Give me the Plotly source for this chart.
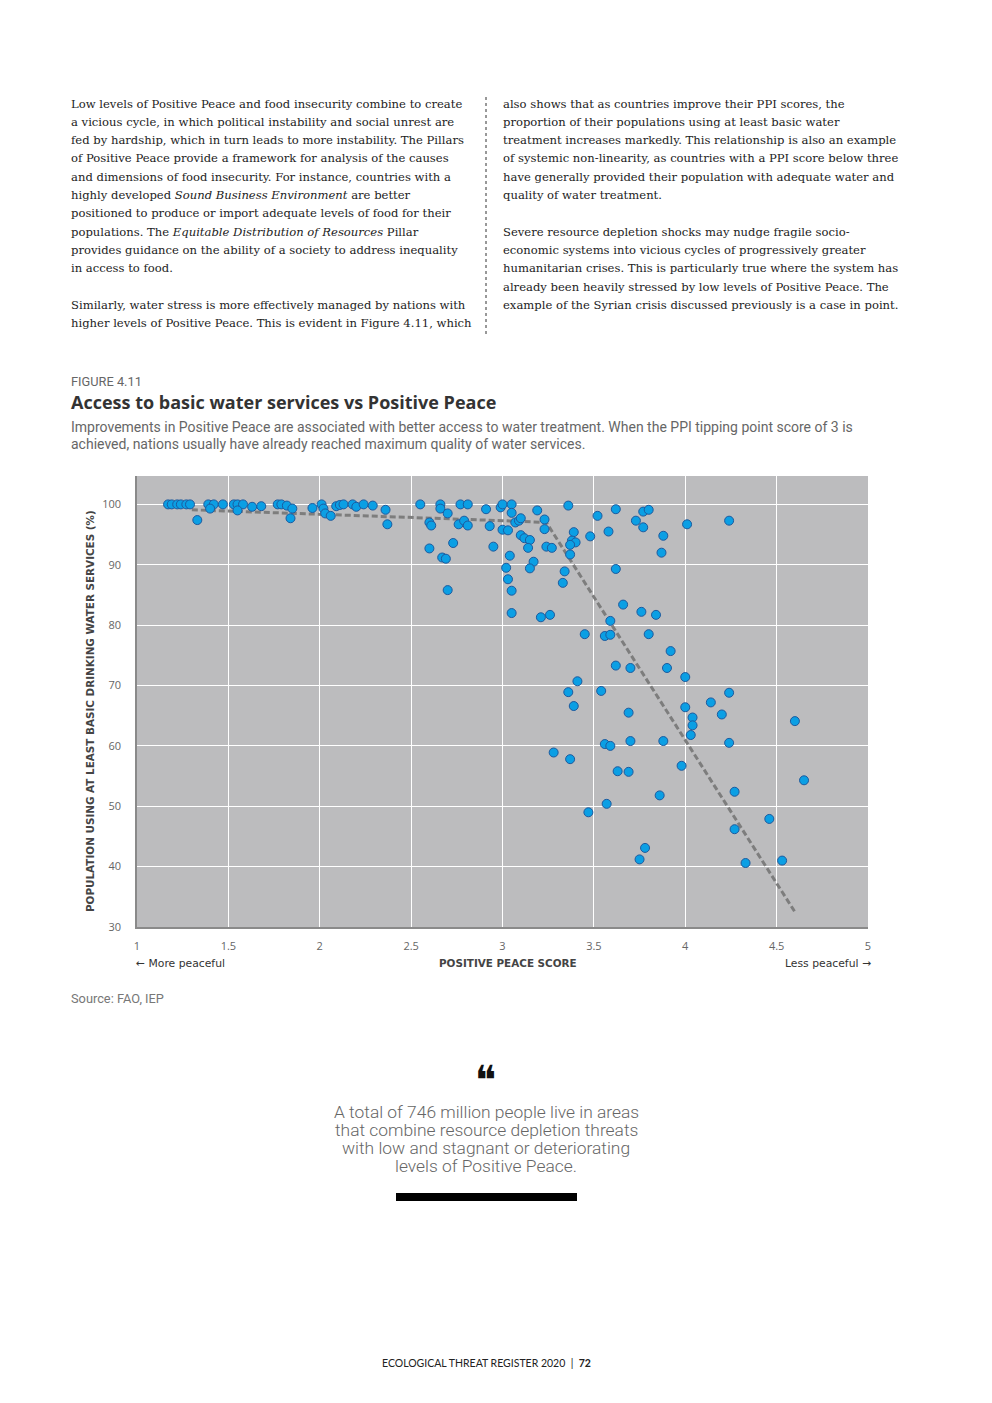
import plotly.graph_objects as go

# ---------------- data ----------------
pp_score = [
    1.17, 1.19, 1.22, 1.24, 1.27, 1.29, 1.33, 1.39, 1.42, 1.40, 1.47,
    1.53, 1.55, 1.58, 1.55, 1.63, 1.68, 1.77, 1.79, 1.82, 1.85, 1.84,
    1.96, 2.01, 2.02, 2.03, 2.06, 2.09, 2.11, 2.13, 2.18, 2.20, 2.24, 2.29,
    2.36, 2.37, 2.55, 2.66, 2.66, 2.70, 2.60, 2.61, 2.60, 2.73, 2.67, 2.69,
    2.70, 2.77, 2.81, 2.76, 2.79, 2.81,
    2.91, 2.99, 3.00, 3.05, 3.05, 2.93, 3.00, 3.03, 2.95, 3.07, 3.09, 3.10,
    3.19, 3.23, 3.23, 3.10, 3.12, 3.15, 3.14, 3.24, 3.27, 3.04, 3.02, 3.03,
    3.05, 3.05, 3.17, 3.15, 3.21, 3.26,
    3.36, 3.39, 3.38, 3.40, 3.37, 3.37, 3.34, 3.33, 3.48, 3.52, 3.58, 3.62,
    3.62, 3.73, 3.77, 3.80, 3.77, 3.88, 3.87, 3.66, 3.76, 3.84, 3.59,
    4.01, 4.24,
    3.45, 3.56, 3.59, 3.80, 3.92, 3.62, 3.70, 3.90, 4.00, 3.41, 3.36, 3.39,
    3.54, 3.69, 4.00, 4.04, 4.04, 4.03, 3.56, 3.59, 3.70, 3.88, 3.28, 3.37,
    3.98, 3.63, 3.69, 3.86, 3.57, 3.47,
    4.14, 4.24, 4.20, 4.60, 4.24, 4.65, 4.27, 4.46, 4.27, 4.53, 4.33, 3.78, 3.75,
]
water_access = [
    100, 100, 100, 100, 100, 100, 97.4, 100, 100, 99.3, 100,
    100, 100, 100, 99.0, 99.6, 99.7, 100, 100, 99.8, 99.3, 97.7,
    99.4, 100, 99.3, 98.5, 98.1, 99.7, 99.9, 100, 100, 99.6, 100, 99.8,
    99.1, 96.7, 100, 100, 99.3, 98.5, 97.0, 96.5, 92.7, 93.6, 91.2, 91.0,
    85.8, 100, 100, 96.7, 97.3, 96.5,
    99.2, 99.5, 100, 100, 98.6, 96.4, 95.8, 95.7, 93.0, 97.0, 97.3, 97.7,
    99.0, 97.5, 95.9, 94.9, 94.4, 94.1, 92.8, 93.0, 92.8, 91.5, 89.5, 87.6,
    85.7, 82.0, 90.5, 89.4, 81.3, 81.7,
    99.8, 95.4, 94.0, 93.7, 93.3, 91.7, 88.9, 87.0, 94.7, 98.1, 95.5, 99.2,
    89.3, 97.3, 98.8, 99.1, 96.2, 94.8, 92.0, 83.4, 82.2, 81.7, 80.7,
    96.7, 97.3,
    78.5, 78.2, 78.4, 78.5, 75.7, 73.3, 72.9, 72.9, 71.4, 70.7, 68.9, 66.6,
    69.1, 65.5, 66.4, 64.7, 63.4, 61.8, 60.3, 60.0, 60.8, 60.8, 58.9, 57.8,
    56.7, 55.8, 55.7, 51.8, 50.4, 49.0,
    67.2, 68.8, 65.2, 64.1, 60.5, 54.3, 52.4, 47.9, 46.2, 41.0, 40.6, 43.1, 41.2,
]
trend_x = [1.30, 2.0, 2.5, 3.0, 3.24, 4.60]
trend_y = [99.1, 98.4, 97.8, 97.3, 97.0, 32.5]

x_ticks = [1, 1.5, 2, 2.5, 3, 3.5, 4, 4.5, 5]
y_ticks = [30, 40, 50, 60, 70, 80, 90, 100]

col1_lines = [
    "Low levels of Positive Peace and food insecurity combine to create",
    "a vicious cycle, in which political instability and social unrest are",
    "fed by hardship, which in turn leads to more instability. The Pillars",
    "of Positive Peace provide a framework for analysis of the causes",
    "and dimensions of food insecurity. For instance, countries with a",
    "highly developed <i>Sound Business Environment</i> are better",
    "positioned to produce or import adequate levels of food for their",
    "populations. The <i>Equitable Distribution of Resources</i> Pillar",
    "provides guidance on the ability of a society to address inequality",
    "in access to food.",
    "",
    "Similarly, water stress is more effectively managed by nations with",
    "higher levels of Positive Peace. This is evident in Figure 4.11, which",
]
col2_lines = [
    "also shows that as countries improve their PPI scores, the",
    "proportion of their populations using at least basic water",
    "treatment increases markedly. This relationship is also an example",
    "of systemic non-linearity, as countries with a PPI score below three",
    "have generally provided their population with adequate water and",
    "quality of water treatment.",
    "",
    "Severe resource depletion shocks may nudge fragile socio-",
    "economic systems into vicious cycles of progressively greater",
    "humanitarian crises. This is particularly true where the system has",
    "already been heavily stressed by low levels of Positive Peace. The",
    "example of the Syrian crisis discussed previously is a case in point.",
]
quote_lines = [
    "A total of 746 million people live in areas",
    "that combine resource depletion threats",
    "with low and stagnant or deteriorating",
    "levels of Positive Peace.",
]

# ---------------- layout geometry (page pixels) ----------------
OFF = 8                       # page body margin
W, H = 992 - 2 * OFF, 1403 - 2 * OFF
PL, PR, PT, PB = 137, 868, 476, 927


def fx(px):
    return (px - PL) / (PR - PL)


def fy(py):
    return (PB - py) / (PB - PT)


def ann(x, y, text, size, color, family, xanchor="left", **kw):
    d = dict(xref="paper", yref="paper", x=fx(x), y=fy(y), text=text,
             xanchor=xanchor, yanchor="middle", showarrow=False,
             font=dict(family=family, size=size, color=color))
    d.update(kw)
    return d


fig = go.Figure()

fig.add_trace(go.Scatter(
    x=trend_x, y=trend_y, mode="lines",
    line=dict(color="#7d7d7d", width=3, dash="6px,3px"),
    hoverinfo="skip", showlegend=False,
))
fig.add_trace(go.Scatter(
    x=pp_score, y=water_access, mode="markers",
    marker=dict(size=9, color="#0b9fe4", line=dict(color="#1d5a9e", width=1)),
    showlegend=False,
))

annotations = []
serif = "DejaVu Serif"
body_size = 11.6
for i, t in enumerate(col1_lines):
    if t:
        annotations.append(ann(69, 103.5 + i * 18.3, t, body_size, "#222", serif))
for i, t in enumerate(col2_lines):
    if t:
        annotations.append(ann(501, 103.5 + i * 18.3, t, body_size, "#222", serif))

sans = "Roboto"
annotations += [
    ann(69, 381, "FIGURE 4.11", 12.8, "#666", sans),
    ann(69, 402, "<b>Access to basic water services vs Positive Peace</b>", 18, "#333", "Open Sans"),
    ann(69, 427, "Improvements in Positive Peace are associated with better access to water treatment. "
                 "When the PPI tipping point score of 3 is", 14, "#666", sans),
    ann(69, 443.5, "achieved, nations usually have already reached maximum quality of water services.",
        14, "#666", sans),
    ann(90, 711, "<b>POPULATION USING AT LEAST BASIC DRINKING WATER SERVICES (%)</b>", 10.4, "#444",
        "DejaVu Sans", xanchor="center", textangle=-90),
    ann(508, 963, "<b>POSITIVE PEACE SCORE</b>", 10.4, "#444", "DejaVu Sans", xanchor="center"),
    ann(134, 963.5, "\u2190 More peaceful", 10.8, "#333", "DejaVu Sans"),
    ann(873, 963.5, "Less peaceful \u2192", 10.8, "#333", "DejaVu Sans", xanchor="right"),
    ann(69, 998, "Source: FAO, IEP", 12.8, "#777", sans),
    ann(486, 1080, "\u275d", 40, "#111", "DejaVu Sans", xanchor="center"),
    ann(486, 1363, "ECOLOGICAL THREAT REGISTER 2020  |  <b>72</b>", 10.5, "#222", "Lato", xanchor="center"),
]
for i, t in enumerate(quote_lines):
    a = ann(486, 1111.5 + i * 18.3, t, 17.4, "#666", sans, xanchor="center")
    a["font"]["weight"] = 300
    annotations.append(a)

shapes = [
    dict(type="line", xref="paper", yref="paper", x0=fx(486), x1=fx(486), y0=fy(97), y1=fy(337),
         line=dict(color="#333", width=1, dash="dot")),
    dict(type="rect", xref="paper", yref="paper", x0=fx(396), x1=fx(577), y0=fy(1201), y1=fy(1193),
         fillcolor="#000", line=dict(width=0)),
]

fig.update_layout(
    width=W, height=H,
    margin=dict(l=PL - OFF, r=W - (PR - OFF), t=PT - OFF, b=H - (PB - OFF), pad=0),
    paper_bgcolor="white", plot_bgcolor="#bcbcbe",
    showlegend=False,
    annotations=annotations, shapes=shapes,
    xaxis=dict(range=[1, 5], tickvals=x_ticks, ticktext=[f"{v:g}" for v in x_ticks],
               showgrid=True, gridcolor="white", gridwidth=1.2, zeroline=False,
               showline=True, linecolor="#8a8a8a", linewidth=1.5,
               ticks="outside", ticklen=8, tickcolor="rgba(0,0,0,0)",
               tickfont=dict(family="Open Sans", size=11, color="#666")),
    yaxis=dict(range=[30, 104.7], tickvals=y_ticks,
               showgrid=True, gridcolor="white", gridwidth=1.2, zeroline=False,
               showline=True, linecolor="#8a8a8a", linewidth=1.5,
               ticks="outside", ticklen=12, tickcolor="rgba(0,0,0,0)",
               tickfont=dict(family="Open Sans", size=11, color="#666")),
)

fig.write_html("out.html")
